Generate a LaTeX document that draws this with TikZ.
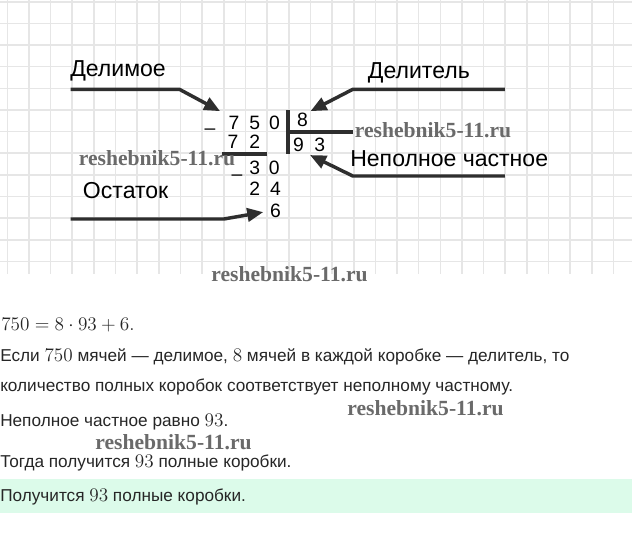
\documentclass[tikz,border=0pt]{standalone}
\usepackage{fontspec}
\setmainfont{Liberation Sans}
\newfontfamily\markfont{Liberation Serif}
\usetikzlibrary{arrows.meta}
\definecolor{gridgray}{HTML}{E6E6E6}
\definecolor{inkgray}{HTML}{2E2E2E}
\definecolor{markgray}{HTML}{6A6A6A}
\definecolor{answergreen}{HTML}{DCFBEA}
\newcommand\numb[1]{{\fontsize{15}{15}\selectfont$#1$}}

\begin{document}
\begin{tikzpicture}[x=0.75pt,y=-0.75pt,
    digit/.style={inner sep=0pt,font=\fontsize{14.5}{17}\selectfont},
    label/.style={inner sep=0pt,anchor=base west,font=\fontsize{17.3}{20}\selectfont},
    pointer/.style={line width=2.6pt,inkgray,-{Triangle[length=12pt,width=10pt]}},
    bar/.style={line width=2.3pt,inkgray},
    wmark/.style={inner sep=0pt,text=markgray,font=\markfont\bfseries\fontsize{16.2}{18}\selectfont},
    textline/.style={anchor=west,inner sep=0pt,text=black!85,font=\fontsize{12.9}{15}\selectfont}]
    \useasboundingbox (0,0) rectangle (632,547);
    \fill[white] (0,0) rectangle (632,547);
    \foreach \i in {0,...,28}
        \draw[gridgray,line width=1.2pt] ({7.3+21.65*\i},0)--({7.3+21.65*\i},274);
    \foreach \j in {0,...,12}
        \draw[gridgray,line width=1.2pt] (0,{1.7+21.65*\j})--(632,{1.7+21.65*\j});

    \node[digit] (d7) at (234,122.5) {7};
    \node[digit] (d5) at (254.8,122.5) {5};
    \node[digit] (d0) at (274.5,122.5) {0};
    \node[digit] (d8) at (302.5,119.5) {8};
    \node[digit] (minusa) at (210,131.7) {–};
    \node[digit] (m7) at (233,141.5) {7};
    \node[digit] (m2) at (254.8,141.5) {2};
    \node[digit] (q9) at (298.4,145) {9};
    \node[digit] (q3) at (319.8,145) {3};
    \node[digit] (r3) at (254.8,167.5) {3};
    \node[digit] (r0) at (274.3,167.5) {0};
    \node[digit] (minusb) at (237,177.5) {–};
    \node[digit] (n2) at (254.8,189) {2};
    \node[digit] (n4) at (275.4,189) {4};
    \node[digit] (rest) at (275.4,211) {6};
    \draw[bar] (288,110)--(288,154);
    \draw[bar] (288,132)--(353,132);
    \draw[bar] (221.8,154)--(267,154);

    \node[label] (dividend) at (70,76) {Делимое};
    \node[label] (divisor) at (367.7,78) {Делитель};
    \node[label] (quotient) at (350,166.5) {Неполное частное};
    \node[label] (remainder) at (82.7,198.7) {Остаток};

    \coordinate (dividend-a) at (70.6,89.3);
    \coordinate (dividend-b) at (179.4,89.3);
    \coordinate (divisor-a) at (504.8,89.3);
    \coordinate (divisor-b) at (352.8,89.3);
    \coordinate (quotient-a) at (504.8,176);
    \coordinate (quotient-b) at (352.8,176);
    \coordinate (remainder-a) at (70.6,219);
    \coordinate (remainder-b) at (223.8,219);
    \draw[pointer,shorten >=7pt] (dividend-a)--(dividend-b)--(d7.north west);
    \draw[pointer,shorten >=2pt] (divisor-a)--(divisor-b)--(d8.north east);
    \draw[pointer,shorten >=5pt] (quotient-a)--(quotient-b)--(q9.south east);
    \draw[pointer,shorten >=5pt] (remainder-a)--(remainder-b)--(rest.west);

    \node[wmark] (wm1) at (433,130) {reshebnik5-11.ru};
    \node[wmark] (wm2) at (157,158.5) {reshebnik5-11.ru};
    \node[wmark] (wm3) at (289.5,274) {reshebnik5-11.ru};

    \node[textline,font=\fontsize{14.6}{17}\selectfont] (equation) at (1,325) {$750 = 8\cdot 93 + 6.$};
    \node[textline] (line1) at (0,356.7) {Если \numb{750} мячей — делимое, \numb{8} мячей в каждой коробке — делитель, то};
    \node[textline] (line2) at (0,386.7) {количество полных коробок соответствует неполному частному.};
    \node[textline] (line3) at (0,421.7) {Неполное частное равно \numb{93}.};
    \node[textline] (line4) at (0,463.3) {Тогда получится \numb{93} полные коробки.};
    \fill[answergreen] (0,479) rectangle (632,513);
    \node[textline] (answer) at (0,496.7) {Получится \numb{93} полные коробки.};

    \node[wmark] (wm4) at (425.5,408.3) {reshebnik5-11.ru};
    \node[wmark] (wm5) at (173.5,441.7) {reshebnik5-11.ru};
\end{tikzpicture}
\end{document}
